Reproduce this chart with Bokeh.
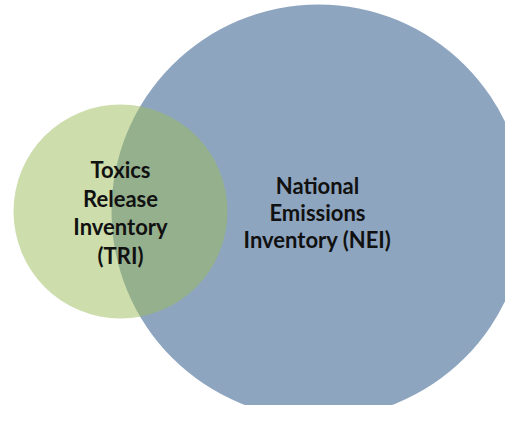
from bokeh.plotting import figure
from bokeh.models import Range1d
from bokeh.core.properties import value
from bokeh.embed import file_html
from bokeh.resources import INLINE

# Venn sets (centres/radii in pixel-like units of the picture)
set_labels = ["National\nEmissions\nInventory (NEI)", "Toxics\nRelease\nInventory\n(TRI)"]
set_x = [318, 120]
set_y = [211, 211]
set_r = [207, 107]
set_colors = ["#8EA5C0", "#9BBB59"]
set_alpha = [1.0, 0.5]
label_x = [317, 120]
label_y = [212, 212]
label_spacing = [1.0, 1.06]

W, H = 505, 405
p = figure(width=W, height=H, output_backend="svg", toolbar_location=None,
           x_range=Range1d(0, W), y_range=Range1d(H, 0),
           min_border=0)
p.axis.visible = False
p.grid.visible = False
p.outline_line_color = None
p.background_fill_color = "white"

for i in range(len(set_x)):
    p.circle(x=[set_x[i]], y=[set_y[i]], radius=set_r[i], fill_color=set_colors[i],
             fill_alpha=set_alpha[i], line_color=None)

for i in range(len(set_labels)):
    p.text(x=[label_x[i]], y=[label_y[i]], text=[set_labels[i]], text_align="center",
           text_baseline="middle", text_font=value("Lato"), text_font_style="bold",
           text_font_size="22px", text_line_height=label_spacing[i], text_color="#111111")

open("out.html", "w").write(file_html(p, INLINE))
